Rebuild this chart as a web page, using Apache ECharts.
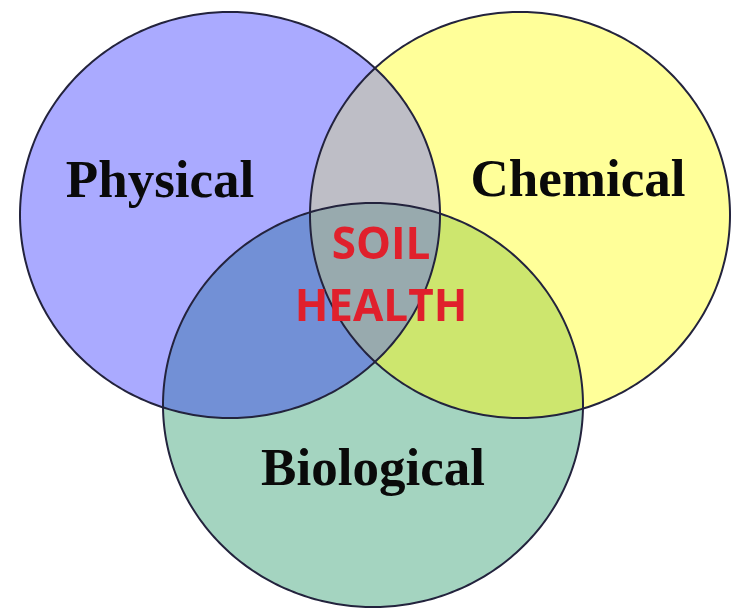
<!DOCTYPE html>
<html>
<head>
<meta charset="utf-8">
<script src="https://cdn.jsdelivr.net/npm/echarts@6/dist/echarts.min.js"></script>
<style>
  html, body { margin: 0; padding: 0; background: #fff; }
  #chart { width: 736px; height: 609px; }
</style>
</head>
<body>
<div id="chart"></div>
<script>
// three sets of the diagram, in plot units (0..736 by 0..609, y down)
const setNames = ['Physical', 'Chemical', 'Biological']
const centerX = [230, 520, 373]
const centerY = [215, 215, 405]
const radiusX = [210, 210, 210]
const radiusY = [203, 203, 202]
const labelX = [160, 578, 373]
const labelY = [183, 182, 471]

// overlaps, as index lists into the sets above
const overlaps = [[0, 2], [1, 2], [0, 1], [0, 1, 2]]
const coreLines = ['SOIL', 'HEALTH']
const coreX = [381, 381]
const coreY = [246, 308]

const setColors = ['#aaaaff', '#ffff99', '#a4d4c0']
const overlapColors = ['#7290d6', '#cde66e', '#bebec6', '#98aaae']

const chartDom = document.getElementById('chart')
const myChart = echarts.init(chartDom)

// ellipse outline as a polygon, in data units
function ellipsePoly (i) {
  const pts = []
  const n = 360
  for (let k = 0; k < n; k++) {
    const t = (2 * Math.PI * k) / n
    pts.push([centerX[i] + radiusX[i] * Math.cos(t), centerY[i] + radiusY[i] * Math.sin(t)])
  }
  return pts
}

// Sutherland-Hodgman, clip polygon is convex
function clipPoly (subject, clip) {
  let output = subject
  for (let j = 0; j < clip.length; j++) {
    const a = clip[j]
    const b = clip[(j + 1) % clip.length]
    const inside = p => (b[0] - a[0]) * (p[1] - a[1]) - (b[1] - a[1]) * (p[0] - a[0]) >= 0
    const cross = (p, q) => {
      const dx1 = q[0] - p[0], dy1 = q[1] - p[1]
      const dx2 = b[0] - a[0], dy2 = b[1] - a[1]
      const den = dx1 * dy2 - dy1 * dx2
      const t = ((a[0] - p[0]) * dy2 - (a[1] - p[1]) * dx2) / den
      return [p[0] + t * dx1, p[1] + t * dy1]
    }
    const input = output
    output = []
    if (!input.length) break
    let s = input[input.length - 1]
    for (const p of input) {
      if (inside(p)) {
        if (!inside(s)) output.push(cross(s, p))
        output.push(p)
      } else if (inside(s)) {
        output.push(cross(s, p))
      }
      s = p
    }
  }
  return output
}

const setPolys = setNames.map((n, i) => ellipsePoly(i))
const overlapPolys = overlaps.map(idx =>
  idx.slice(1).reduce((acc, i) => clipPoly(acc, setPolys[i]), setPolys[idx[0]])
)

function polyItem (polys, colors, stroke) {
  return function (params, api) {
    const pts = polys[params.dataIndex].map(p => api.coord(p))
    return {
      type: 'polygon',
      shape: { points: pts },
      style: stroke
        ? { fill: 'none', stroke: '#23233d', lineWidth: 2 }
        : { fill: colors[params.dataIndex] }
    }
  }
}

const series = [
  {
    type: 'custom',
    silent: true,
    data: setNames.map((n, i) => [centerX[i], centerY[i]]),
    renderItem: polyItem(setPolys, setColors, false)
  },
  {
    type: 'custom',
    silent: true,
    data: overlaps.map((idx, k) => [k, k]),
    renderItem: polyItem(overlapPolys, overlapColors, false)
  },
  {
    type: 'custom',
    silent: true,
    data: setNames.map((n, i) => [centerX[i], centerY[i]]),
    renderItem: polyItem(setPolys, setColors, true)
  },
  // set names
  {
    type: 'custom',
    silent: true,
    data: setNames.map((n, i) => [labelX[i], labelY[i]]),
    renderItem: function (params, api) {
      const c = api.coord([api.value(0), api.value(1)])
      return {
        type: 'text',
        x: c[0],
        y: c[1],
        style: {
          text: setNames[params.dataIndex],
          fill: '#0a0a0a',
          font: 'bold 53px "Liberation Serif", "Times New Roman", serif',
          align: 'center',
          verticalAlign: 'middle'
        }
      }
    }
  },
  // centre words
  {
    type: 'custom',
    silent: true,
    data: coreLines.map((t, i) => [coreX[i], coreY[i]]),
    renderItem: function (params, api) {
      const c = api.coord([api.value(0), api.value(1)])
      return {
        type: 'text',
        x: c[0],
        y: c[1],
        style: {
          text: coreLines[params.dataIndex],
          fill: '#e0202c',
          font: 'bold 44px "Open Sans", sans-serif',
          align: 'center',
          verticalAlign: 'middle'
        }
      }
    }
  }
]

const option = {
  backgroundColor: '#ffffff',
  animation: false,
  grid: { left: 0, right: 0, top: 0, bottom: 0 },
  xAxis: { type: 'value', min: 0, max: 736, show: false },
  yAxis: { type: 'value', min: 0, max: 609, inverse: true, show: false },
  series: series
}

myChart.setOption(option)
</script>
</body>
</html>
